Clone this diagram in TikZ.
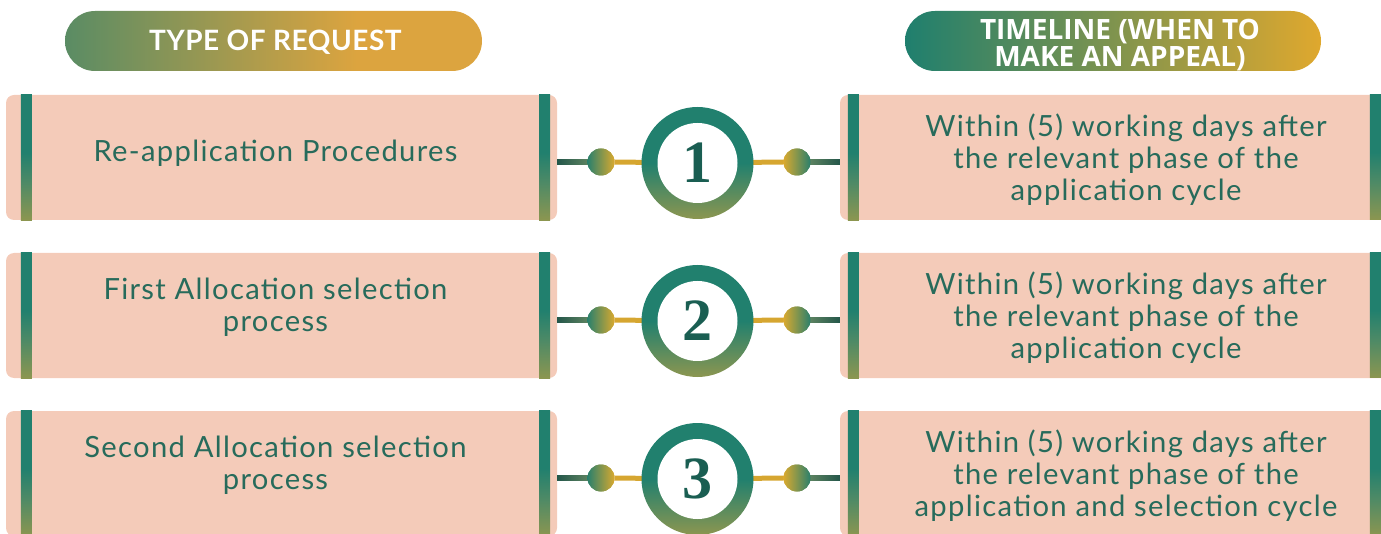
\documentclass[tikz,border=0pt]{standalone}
\usepackage{fontspec}
\setmainfont{Lato}
\newfontfamily\bodyfont[LetterSpace=4.5]{Lato}
\newfontfamily\headfont[LetterSpace=2]{Lato}
\newfontfamily\hfont{Open Sans}
\newfontfamily\numfont{Liberation Serif}
\usetikzlibrary{calc}
\definecolor{boxfill}{HTML}{F4CBB9}
\definecolor{tealc}{HTML}{21806E}
\definecolor{olivec}{HTML}{8C9650}
\definecolor{midc}{HTML}{4E8A66}
\definecolor{txtc}{HTML}{276B5B}
\definecolor{goldc}{HTML}{D6A630}
\definecolor{pillg}{HTML}{5A8C64}
\definecolor{pillo}{HTML}{DCA43F}
\definecolor{pillt}{HTML}{1F7F6E}
\definecolor{pilly}{HTML}{DFA82E}
\definecolor{numc}{HTML}{1A5E52}
\definecolor{linedark}{HTML}{24574A}
\definecolor{linelight}{HTML}{74956A}
\definecolor{dotteal}{HTML}{2A806C}
\definecolor{dotgold}{HTML}{D9A92F}
\pgfdeclareverticalshading{barsh}{100bp}{color(0bp)=(olivec); color(25bp)=(olivec); color(40bp)=(midc); color(52bp)=(tealc); color(100bp)=(tealc)}
\pgfdeclareverticalshading{ringsh}{100bp}{color(0bp)=(olivec); color(25bp)=(olivec); color(50bp)=(tealc); color(100bp)=(tealc)}
\pgfdeclarehorizontalshading{pillLsh}{100bp}{color(0bp)=(pillg); color(25bp)=(pillg); color(60bp)=(pillo); color(100bp)=(pillo)}
\pgfdeclarehorizontalshading{pillRsh}{100bp}{color(0bp)=(pillt); color(25bp)=(pillt); color(75bp)=(pilly); color(100bp)=(pilly)}
\pgfdeclarehorizontalshading{dotLsh}{100bp}{color(0bp)=(dotteal); color(25bp)=(dotteal); color(75bp)=(dotgold); color(100bp)=(dotgold)}
\pgfdeclarehorizontalshading{dotRsh}{100bp}{color(0bp)=(dotgold); color(25bp)=(dotgold); color(75bp)=(dotteal); color(100bp)=(dotteal)}
\pgfdeclarehorizontalshading{lineLsh}{100bp}{color(0bp)=(linedark); color(25bp)=(linedark); color(75bp)=(linelight); color(100bp)=(linelight)}
\pgfdeclarehorizontalshading{lineRsh}{100bp}{color(0bp)=(linelight); color(25bp)=(linelight); color(75bp)=(linedark); color(100bp)=(linedark)}
\tikzset{
  lbox/.style={fill=boxfill, rounded corners=8pt, minimum width=551pt, minimum height=125pt, inner sep=0pt},
  rbox/.style={fill=boxfill, rounded corners=8pt, minimum width=572pt, minimum height=125pt, inner sep=0pt},
  btxt/.style={text=txtc, font=\bodyfont\fontsize{29.2}{32}\selectfont, align=center, inner sep=0pt},
  ring/.style={circle, shading=ringsh, minimum size=112pt, inner sep=0pt},
  inner/.style={circle, fill=white, minimum size=80pt, inner sep=0pt, text=numc, font=\numfont\bfseries\fontsize{60}{60}\selectfont},
  dotL/.style={circle, shading=dotLsh, minimum size=27pt, inner sep=0pt},
  dotR/.style={circle, shading=dotRsh, minimum size=27pt, inner sep=0pt},
  goldline/.style={draw=goldc, line width=5pt},
  pillL/.style={shading=pillLsh, rounded corners=30pt, minimum width=417pt, minimum height=60pt, inner sep=0pt},
  pillR/.style={shading=pillRsh, rounded corners=30pt, minimum width=416pt, minimum height=60pt, inner sep=0pt},
  htxtL/.style={text=white, font=\headfont\bfseries\fontsize{28}{28}\selectfont, inner sep=0pt},
  htxtR/.style={text=white, align=center, font=\hfont\bfseries\fontsize{28}{27}\selectfont, inner sep=0pt},
}
\begin{document}
\begin{tikzpicture}[x=1pt,y=-1pt]
\useasboundingbox (0,0) rectangle (1381,534);
\clip (0,0) rectangle (1381,534);
% headers
\node[pillL] (H1) at (273.5,41) {};
\node[pillR] (H2) at (1113,41) {};
\node[htxtL] (H1t) at ($(H1.center)+(2,1)$) {TYPE OF REQUEST};
\node[htxtR] (H2t) at ($(H2.center)+(7,4)$) {TIMELINE (WHEN TO\\MAKE AN APPEAL)};
% rows
\foreach \i/\yy/\num in {1/157.5/1, 2/315.5/2, 3/473.5/3}{
  \node[lbox] (L\i) at (281.5,\yy) {};
  \node[rbox] (R\i) at (1126,\yy) {};
  \shade[shading=barsh] ($(L\i.north west)+(15,0)$) rectangle ($(L\i.south west)+(26,0)$);
  \shade[shading=barsh] ($(L\i.north east)+(-18,0)$) rectangle ($(L\i.south east)+(-7,0)$);
  \shade[shading=barsh] ($(R\i.north west)+(8,0)$) rectangle ($(R\i.south west)+(19,0)$);
  \shade[shading=barsh] ($(R\i.north west)+(530,0)$) rectangle ($(R\i.north west)+(541,125)$);
  \coordinate (M\i) at (697.5,\yy+5.5);
  \node[dotL] (DL\i) at (601,\yy+4.5) {};
  \node[dotR] (DR\i) at (797,\yy+4.5) {};
  \shade[shading=lineLsh] ($(L\i.east |- DL\i)+(0,-2.5)$) rectangle ($(DL\i.center)+(0,2.5)$);
  \shade[shading=lineRsh] ($(DR\i.center)+(0,-2.5)$) rectangle ($(R\i.west |- DR\i)+(0,2.5)$);
  \draw[goldline] (DL\i.east) -- (M\i);
  \draw[goldline] (M\i) -- (DR\i.west);
  \node[dotL] at (DL\i) {};
  \node[dotR] at (DR\i) {};
  \node[ring] (C\i) at (M\i) {};
  \node[inner] (N\i) at (M\i) {\num};
}
\node[btxt] (T1) at ($(L1.center)+(-6,-4)$) {Re-application Procedures};
\node[btxt] (T2) at ($(L2.center)+(-6,-8.5)$) {First Allocation selection\\process};
\node[btxt] (T3) at ($(L3.center)+(-6,-8.5)$) {Second Allocation selection\\process};
\node[btxt] (U1) at ($(R1.center)+(0,2.5)$) {Within (5) working days after\\the relevant phase of the\\application cycle};
\node[btxt] (U2) at ($(R2.center)+(0,2.5)$) {Within (5) working days after\\the relevant phase of the\\application cycle};
\node[btxt] (U3) at ($(R3.center)+(0,2.5)$) {Within (5) working days after\\the relevant phase of the\\application and selection cycle};
\end{tikzpicture}
\end{document}
